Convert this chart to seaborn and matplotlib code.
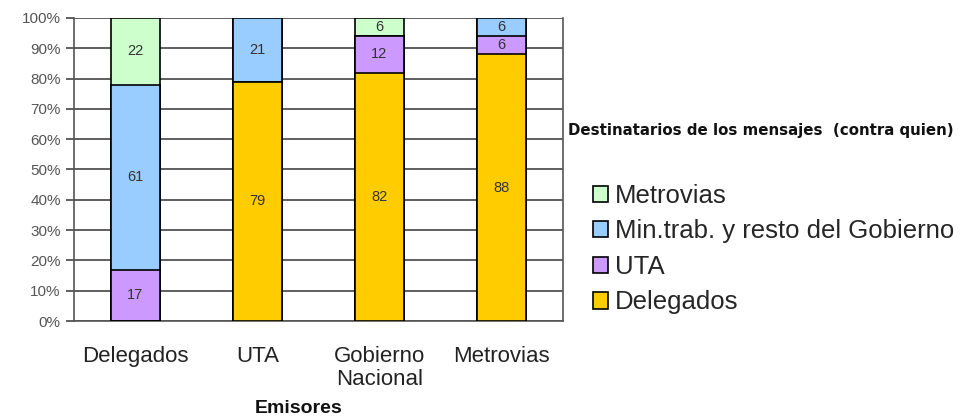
import numpy as np
import pandas as pd
import matplotlib
matplotlib.use("Agg")
import matplotlib.pyplot as plt
import seaborn as sns
from matplotlib.patches import Patch

# ---------------------------------------------------------------------------
# Data (percent of messages per sender, stacked by recipient)
# ---------------------------------------------------------------------------
emisores = ["Delegados", "UTA", "Gobierno\nNacional", "Metrovias"]
series_names = ["Delegados", "UTA", "Min.trab. y resto del Gobierno", "Metrovias"]  # bottom -> top
delegados = [0, 79, 82, 88]
uta = [17, 0, 12, 6]
min_trab = [61, 21, 0, 6]
metrovias = [22, 0, 6, 0]
colors = ["#FFCC00", "#CC99FF", "#99CCFF", "#CCFFCC"]

layers = [delegados, uta, min_trab, metrovias]
df = pd.DataFrame({name: vals for name, vals in zip(series_names, layers)})
df["emisor"] = emisores
cum = df[series_names].cumsum(axis=1)

sns.set_style("white")
plt.rcParams["font.family"] = ["Liberation Sans", "DejaVu Sans"]

fig = plt.figure(figsize=(9.68, 4.18), dpi=100)
ax = fig.add_axes([0.0764, 0.232, 0.505, 0.725])

# draw totals from top layer down so each lower layer covers the one above
for name, color in zip(reversed(series_names), reversed(colors)):
    sns.barplot(x=df["emisor"], y=cum[name], color=color, ax=ax,
                width=0.4, edgecolor="black", linewidth=1.2, saturation=1,
                order=emisores, zorder=3)

# segment labels
for i in range(len(emisores)):
    base = 0
    for name in series_names:
        v = df[name].iloc[i]
        if v > 0:
            ax.text(i, base + v / 2, f"{v}", ha="center", va="center",
                    fontsize=10.5, color="#333333", zorder=5)
        base += v

ax.set_ylim(0, 100)
ax.set_xlim(-0.5, len(emisores) - 0.5)
ax.set_yticks(np.arange(0, 101, 10))
ax.set_yticklabels([f"{t}%" for t in range(0, 101, 10)], fontsize=11, color="#555555")
ax.yaxis.grid(True, color="#444444", linewidth=1.2, zorder=0)
ax.set_axisbelow(True)

ax.set_xticks(np.arange(len(emisores)))
ax.set_xticklabels(emisores, fontsize=16, color="#222222", linespacing=1.15)
ax.tick_params(axis="x", length=0, pad=18)
ax.set_xticks(np.arange(-0.5, len(emisores)), minor=True)
ax.tick_params(axis="x", which="minor", length=6, width=1.2, color="#444444", direction="out")
ax.tick_params(axis="y", length=6, width=1.2, color="#444444", direction="out", left=True)

ax.spines["top"].set_visible(False)
for s in ["left", "bottom", "right"]:
    ax.spines[s].set_color("#555555")
    ax.spines[s].set_linewidth(1.2)

ax.set_ylabel("")
ax.set_xlabel("Emisores", fontsize=14, fontweight="bold", color="#111111")
ax.xaxis.set_label_coords(0.46, -0.262)

# legend (top layer first)
handles = [Patch(facecolor=c, edgecolor="black", linewidth=1.2)
           for c in reversed(colors)]
leg = fig.legend(handles, list(reversed(series_names)), loc="upper left",
                 bbox_to_anchor=(0.602, 0.585), frameon=False, fontsize=18.5,
                 handlelength=0.6, handleheight=0.6, handletextpad=0.25,
                 labelspacing=0.45, borderaxespad=0)
fig.text(0.587, 0.688, "Destinatarios de los mensajes  (contra quien)",
         fontsize=10.8, fontweight="bold", family="DejaVu Sans", color="#111111",
         va="center")

fig.savefig("out.png", dpi=100)
